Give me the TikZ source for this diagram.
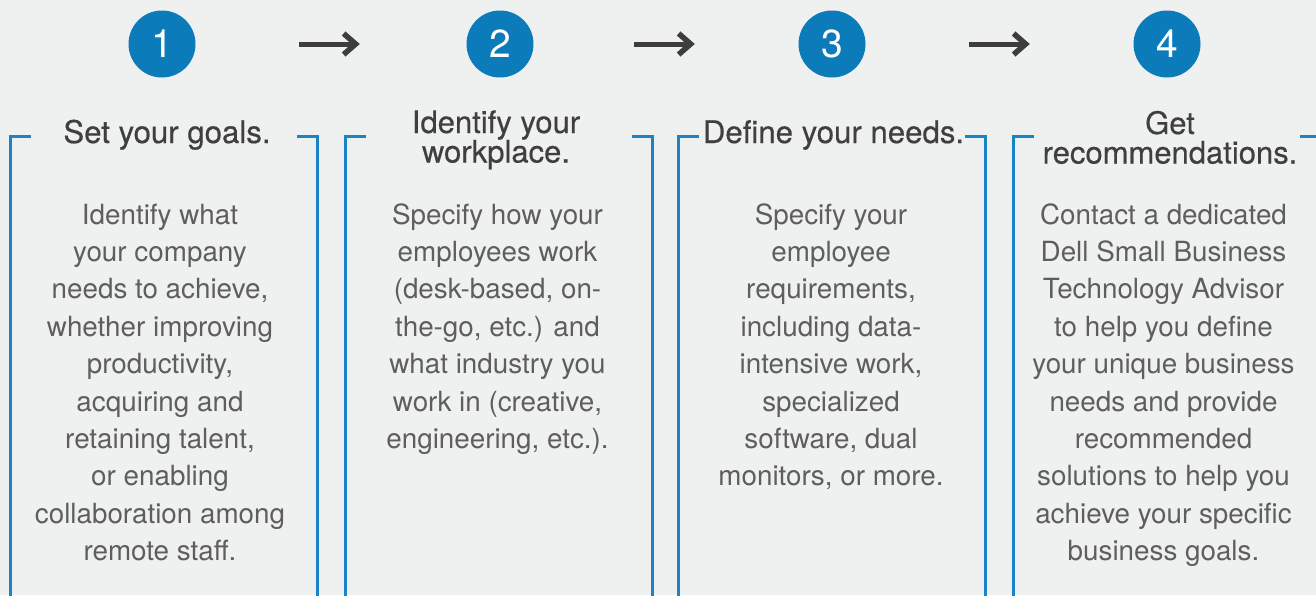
\documentclass[tikz,border=0pt]{standalone}
\usepackage{fontspec}
\setmainfont{TeX Gyre Heros}
\newfontfamily\ttlfont[FakeBold=0.4]{TeX Gyre Heros}
\usetikzlibrary{arrows.meta}
\definecolor{bg}{HTML}{EFF0F0}
\definecolor{dblue}{HTML}{0C7BBA}
\definecolor{lblue}{HTML}{1A84C6}
\definecolor{arr}{HTML}{3D3D3D}
\definecolor{ttl}{HTML}{3F3F3F}
\definecolor{bdy}{HTML}{5E5E5E}
\newcommand\mystack[2]{\vtop{\baselineskip=#1\lineskiplimit=-100pt\lineskip=0pt\halign{\hfil##\hfil\cr#2\crcr}}}
\begin{document}
\begin{tikzpicture}[x=1pt,y=1pt,
  numc/.style={circle, fill=dblue, minimum size=67pt, inner sep=0pt, text=white, font=\fontsize{39}{39}\selectfont},
  ttlnode/.style={anchor=base, inner sep=0pt, text=ttl, font=\ttlfont\fontsize{31.2}{31.2}\selectfont},
  ttltwo/.style={anchor=base, inner sep=0pt, text=ttl, font=\ttlfont\fontsize{31}{31}\selectfont},
  bodynode/.style={anchor=base, inner sep=0pt, text=bdy, font=\fontsize{27.8}{37.4}\selectfont},
  frame/.style={draw=lblue, line width=3pt, line join=miter},
  flow/.style={draw=arr, line width=5pt, -{Straight Barb[length=12pt,width=21pt,line width=5.5pt]}}]
\useasboundingbox (0,0) rectangle (1316,-595);
\fill[bg] (0,0) rectangle (1316,-595);
\clip (0,0) rectangle (1316,-595);

% numbered circles
\node[numc] (c1) at (162,-44) {1};
\node[numc] (c2) at (500,-44) {2};
\node[numc] (c3) at (832,-44) {3};
\node[numc] (c4) at (1167,-44) {4};

% arrows
\draw[flow, shorten <=103.5pt, shorten >=106.5pt] (c1) -- (c2);
\draw[flow, shorten <=100.5pt, shorten >=103.5pt] (c2) -- (c3);
\draw[flow, shorten <=103.5pt, shorten >=103.5pt] (c3) -- (c4);

% frames
\foreach \xl in {10,345,678,1013}{
  \draw[frame] (\xl,-600) -- (\xl,-136) -- ({\xl+21},-136);
  \draw[frame] ({\xl+287},-136) -- ({\xl+307},-136) -- ({\xl+307},-600);
}

% titles
\node[ttlnode] (t1) at (167,-143) {Set your goals.};
\node[ttltwo] (t2) at (496,-133) {\mystack{29.5pt}{Identify your\cr workplace.}};
\node[ttlnode] (t3) at (833.5,-143) {Define your needs.};
\node[ttltwo] (t4) at (1170,-134) {\mystack{29.5pt}{Get\cr recommendations.}};

% bodies
\node[bodynode] (b1) at (160,-224) {\mystack{37.4pt}{Identify what\cr your company\cr needs to achieve,\cr whether improving\cr productivity,\cr acquiring and\cr retaining talent,\cr or enabling\cr collaboration among\cr remote staff.}};
\node[bodynode] (b2) at (497.5,-224) {\mystack{37.4pt}{Specify how your\cr employees work\cr (desk-based, on-\cr the-go, etc.) and\cr what industry you\cr work in (creative,\cr engineering, etc.).}};
\node[bodynode] (b3) at (831,-224) {\mystack{37.4pt}{Specify your\cr employee\cr requirements,\cr including data-\cr intensive work,\cr specialized\cr software, dual\cr monitors, or more.}};
\node[bodynode] (b4) at (1163.5,-224) {\mystack{37.4pt}{Contact a dedicated\cr Dell Small Business\cr Technology Advisor\cr to help you define\cr your unique business\cr needs and provide\cr recommended\cr solutions to help you\cr achieve your specific\cr business goals.}};
\end{tikzpicture}
\end{document}
